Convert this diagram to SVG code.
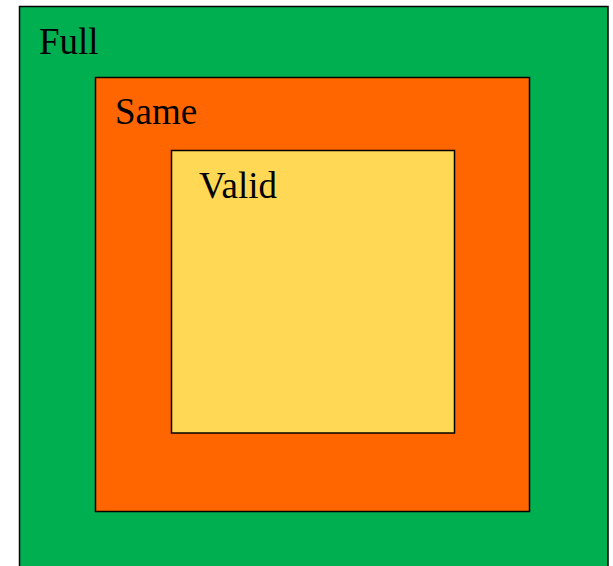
<svg xmlns="http://www.w3.org/2000/svg" width="613" height="566" viewBox="0 0 613 566">
  <style>
    .box { stroke: #000; stroke-width: 1.5; }
    .label { font-family: "Liberation Serif", "Times New Roman", serif; font-size: 37px; fill: #000; }
  </style>
  <rect width="613" height="566" fill="#fff"/>
  <g id="full">
    <rect class="box" x="19.5" y="6.5" width="588.5" height="580" fill="#00AF50"/>
    <text class="label" x="39" y="54">Full</text>
  </g>
  <g id="same">
    <rect class="box" x="95.5" y="77.5" width="434" height="434" fill="#FF6600"/>
    <text class="label" x="115" y="124">Same</text>
  </g>
  <g id="valid">
    <rect class="box" x="171.5" y="150.5" width="283" height="282.5" fill="#FFD955"/>
    <text class="label" x="199" y="198">Valid</text>
  </g>
  <g id="connectors"/>
</svg>
